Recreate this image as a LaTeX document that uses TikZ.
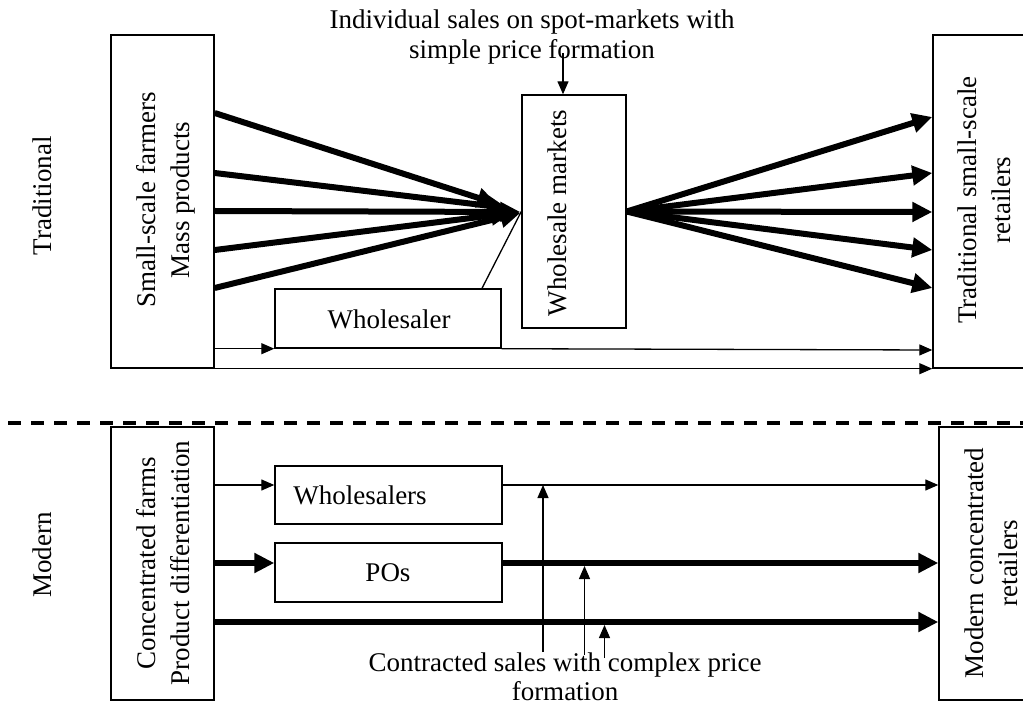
\documentclass[tikz,border=0pt]{standalone}
\usepackage{fontspec}
\setmainfont{Liberation Serif}
\usetikzlibrary{arrows.meta,calc}
\begin{document}
\begin{tikzpicture}[x=1pt,y=-1pt,
  every node/.style={font=\fontsize{27}{30}\selectfont, inner sep=0pt},
  box/.style={draw, line width=1.4pt},
  lbl/.style={rotate=90, align=center, font=\fontsize{27}{34}\selectfont},
  thinarrow/.style={line width=1.3pt, -{Triangle[length=13pt,width=11pt]}},
  fatarrow/.style={line width=6pt, -{Triangle[length=20pt,width=19pt]}},
  thinline/.style={line width=1.3pt},
]
\useasboundingbox (0,0) rectangle (1023,708);

% ---------- traditional ----------
\node[box, minimum width=103pt, minimum height=333pt] (lt) at (162.5,201.5) {};
\node[lbl] at (166,200) {Small-scale farmers\\Mass products};
\node[box, minimum width=103pt, minimum height=333pt] (rt) at (984.5,201.5) {};
\node[lbl] at (984,200) {Traditional small-scale\\retailers};
\node[box, minimum width=104pt, minimum height=233pt] (wm) at (574,211.5) {};
\node[lbl] at (557,213) {Wholesale markets};
\node[box, minimum width=226pt, minimum height=59pt] (ws) at (388,318.5) {};
\node at (389,319) {Wholesaler};

\node[align=center] (tl) at (532,37) {Individual sales on spot-markets with\\simple price formation};
\draw[thinarrow] (563,53) -- (wm.north -| 563,0);

\node[rotate=90] (trad) at (42,196) {Traditional};

% converging
\draw[fatarrow] (lt.east |- 0,113) -- ($(wm.west)+(-24,-7.5)$);
\draw[fatarrow] (lt.east |- 0,173) -- ($(wm.west)+(-14,-3.5)$);
\draw[fatarrow] (lt.east |- 0,211) -- ($(wm.west)+(-1,0.5)$);
\draw[fatarrow] (lt.east |- 0,250) -- ($(wm.west)+(-10,1.5)$);
\draw[fatarrow] (lt.east |- 0,288) -- ($(wm.west)+(-1,1.5)$);
% diverging
\draw[fatarrow] (wm.east) -- (rt.west |- 0,117);
\draw[fatarrow] (wm.east) -- (rt.west |- 0,173);
\draw[fatarrow] (wm.east) -- (rt.west |- 0,212);
\draw[fatarrow] (wm.east) -- (rt.west |- 0,250);
\draw[fatarrow] (wm.east) -- (rt.west |- 0,288);

\draw[thinline] (ws.north -| 482,0) -- (wm.west);
\draw[thinarrow] (lt.east |- ws.south) -- (ws.south west);
\draw[thinarrow] (ws.south east) -- (rt.west |- 0,350);
\draw[thinarrow] (lt.south east) -- (rt.south west);

% ---------- separator ----------
\draw[line width=3.5pt, dash pattern=on 13pt off 10pt, dash phase=15pt] (0,423) -- (1023,423);

% ---------- modern ----------
\node[box, minimum width=103pt, minimum height=273pt] (lb) at (162.5,563.5) {};
\node[lbl] at (163,563) {Concentrated farms\\Product differentiation};
\node[box, minimum width=103pt, minimum height=273pt] (rb) at (990.5,563.5) {};
\node[lbl] at (991,563) {Modern concentrated\\retailers};
\node[box, minimum width=227pt, minimum height=58pt] (ws2) at (388.5,495) {};
\node at (360,495) {Wholesalers};
\node[box, minimum width=227pt, minimum height=59pt] (po) at (388.5,572.5) {};
\node at (388,573) {POs};

\node[rotate=90] (mod) at (42,555) {Modern};

\draw[thinarrow] (lb.east |- 0,485) -- (ws2.west |- 0,485);
\draw[thinarrow] (ws2.east |- 0,485) -- (rb.west |- 0,485);
\draw[fatarrow] (lb.east |- 0,563) -- (po.west |- 0,563);
\draw[fatarrow] (po.east |- 0,563) -- (rb.west |- 0,563);
\draw[fatarrow] (lb.east |- 0,622) -- (rb.west |- 0,622);

\node[align=center, font=\fontsize{27}{29}\selectfont] (ct) at (565,677) {Contracted sales with complex price\\formation};
\coordinate (u1) at (543,652);
\coordinate (u2) at (584.5,655);
\coordinate (u3) at (604.5,658);
\draw[thinarrow] (u1) -- (u1 |- 0,485);
\draw[thinarrow] (u2) -- (u2 |- 0,566);
\draw[thinarrow] (u3) -- (u3 |- 0,625);
\end{tikzpicture}
\end{document}
